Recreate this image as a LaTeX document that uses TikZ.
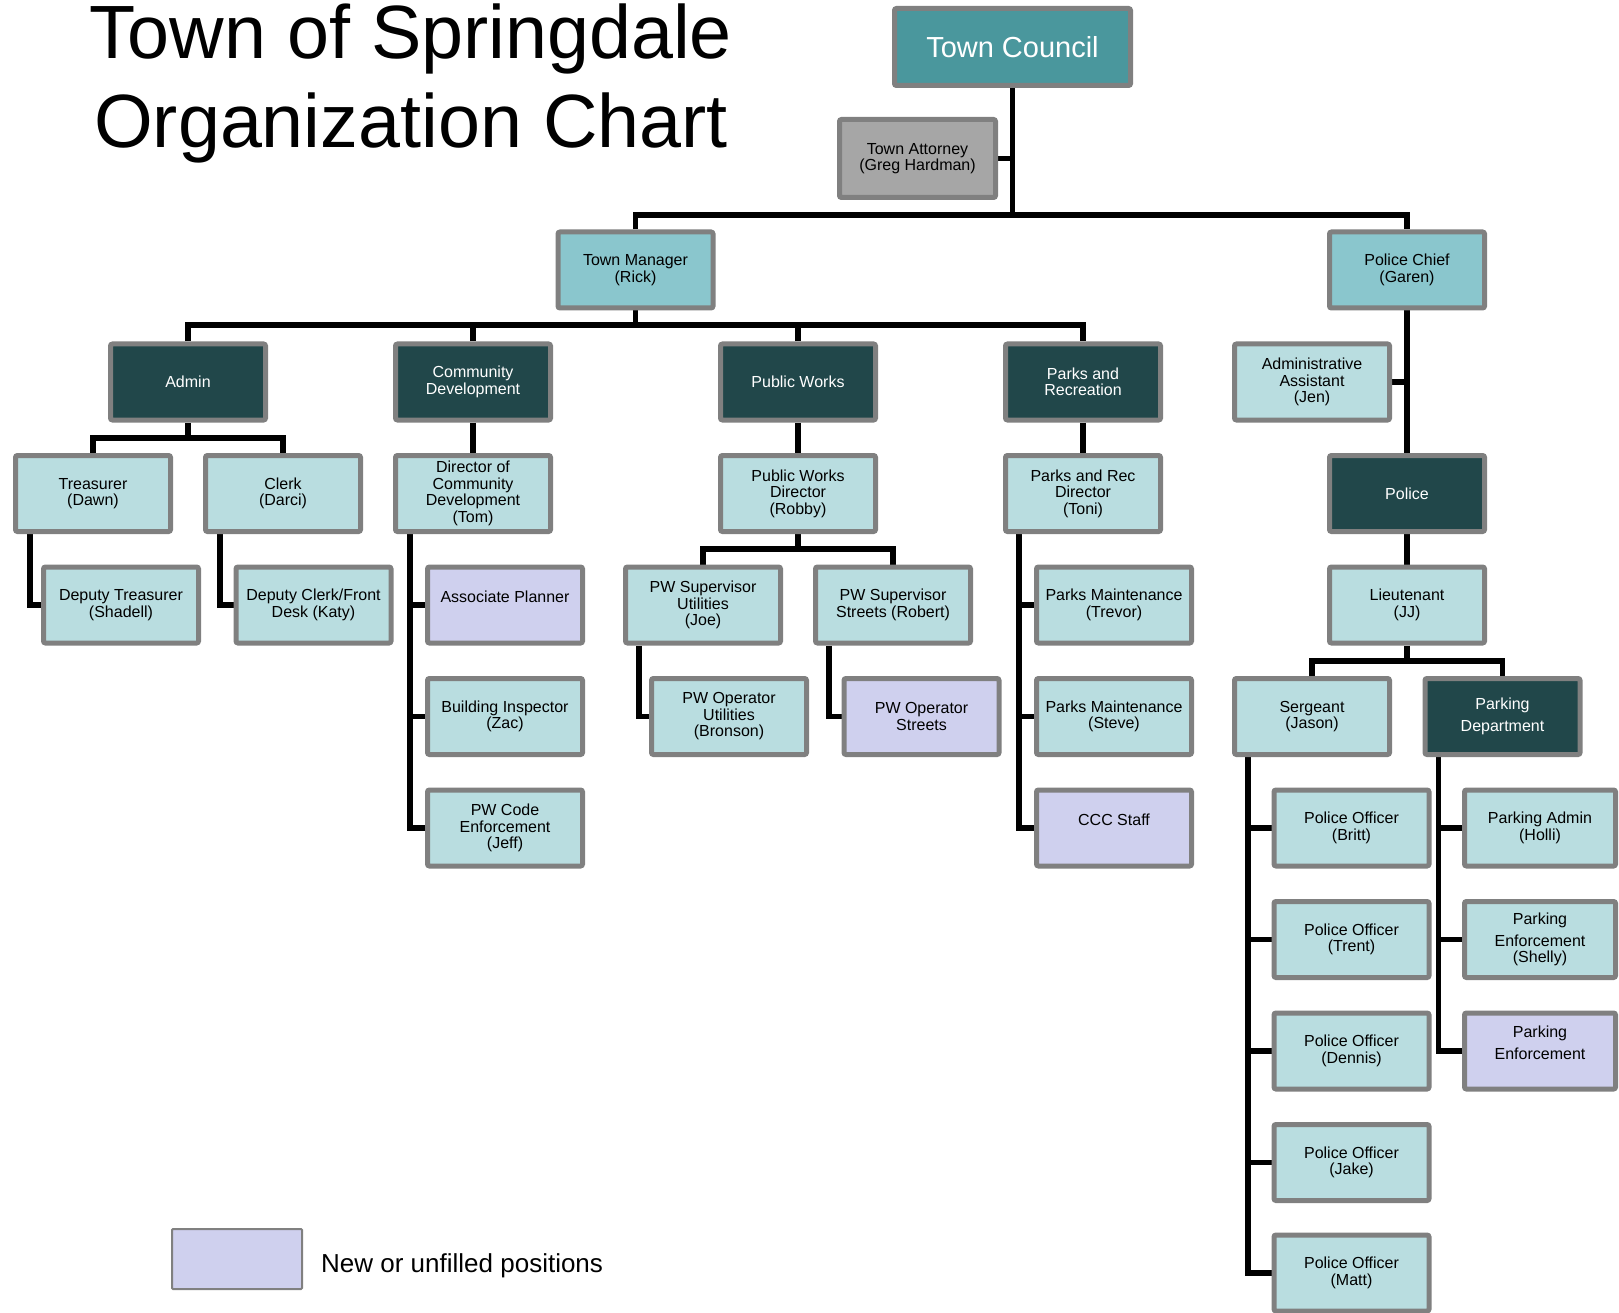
\documentclass[tikz,border=0pt]{standalone}
\usepackage{fontspec}
\setmainfont{Liberation Sans}
\usetikzlibrary{backgrounds}
\definecolor{bordergray}{HTML}{808080}
\definecolor{litebl}{HTML}{B9DDE0}
\definecolor{midbl}{HTML}{8AC6CD}
\definecolor{darkteal}{HTML}{21474A}
\definecolor{councilteal}{HTML}{4A979D}
\definecolor{attgray}{HTML}{A6A6A6}
\definecolor{lavender}{HTML}{CFD0EE}
\newcommand\bxfont{\fontsize{16}{16.5}\selectfont}
\tikzset{
  box/.style={draw=bordergray, line width=5pt, rounded corners=2pt, minimum width=155pt, minimum height=76pt, inner sep=2pt, align=center, font=\bxfont, text=black},
  lite/.style={box, fill=litebl},
  dark/.style={box, fill=darkteal, text=white},
  newpos/.style={box, fill=lavender},
  mgr/.style={box, fill=midbl},
  conn/.style={line width=5.5pt, black},
}
\begin{document}
\begin{tikzpicture}[x=1pt, y=-1pt]
\clip (0,0) rectangle (1619,1313);

% title
\node[font=\fontsize{75.5}{89}\selectfont, align=center, anchor=base] (title) at (411,148) {Town of Springdale\\Organization Chart};

% top
\node[box, fill=councilteal, text=white, minimum width=236pt, minimum height=77pt, font=\fontsize{29}{30}\selectfont] (tc) at (1012.5,47) {Town Council};
\node[box, fill=attgray, minimum width=156pt, minimum height=78pt] (att) at (917.5,158.5) {Town Attorney\\(Greg Hardman)};
\node[mgr] (tm) at (635.5,270) {Town Manager\\(Rick)};
\node[mgr] (pc) at (1407,270) {Police Chief\\(Garen)};

% departments
\node[dark] (admin) at (188,382) {Admin};
\node[dark] (cd) at (473,382) {Community\\Development};
\node[dark] (pw) at (798,382) {Public Works};
\node[dark] (pr) at (1083,382) {Parks and\\Recreation};
\node[lite] (aa) at (1312,382) {Administrative\\Assistant\\(Jen)};

% row C
\node[lite] (tre) at (93,493.5) {Treasurer\\(Dawn)};
\node[lite] (clk) at (283,493.5) {Clerk\\(Darci)};
\node[lite] (cdd) at (473,493.5) {Director of\\Community\\Development\\(Tom)};
\node[lite] (pwd) at (798,493.5) {Public Works\\Director\\(Robby)};
\node[lite] (prd) at (1083,493.5) {Parks and Rec\\Director\\(Toni)};
\node[dark] (pol) at (1407,493.5) {Police};

% row D
\node[lite] (dtre) at (121,605) {Deputy Treasurer\\(Shadell)};
\node[lite] (dclk) at (313.5,605) {Deputy Clerk/Front\\Desk (Katy)};
\node[newpos] (ap) at (505,605) {Associate Planner\\\phantom{X}};
\node[lite] (sup1) at (703,605) {PW Supervisor\\Utilities\\(Joe)};
\node[lite] (sup2) at (893,605) {PW Supervisor\\Streets (Robert)};
\node[lite] (pm1) at (1114,605) {Parks Maintenance\\(Trevor)};
\node[lite] (lt) at (1407,605) {Lieutenant\\(JJ)};

% row E
\node[lite] (bi) at (505,716.5) {Building Inspector\\(Zac)};
\node[lite] (op1) at (729,716.5) {PW Operator\\Utilities\\(Bronson)};
\node[newpos] (op2) at (921.5,716.5) {PW Operator\\Streets};
\node[lite] (pm2) at (1114,716.5) {Parks Maintenance\\(Steve)};
\node[lite] (sgt) at (1312,716.5) {Sergeant\\(Jason)};
\node[dark] (pkd) at (1502.5,716.5) {Parking\\[5pt]Department};

% row F and below
\node[lite] (code) at (505,828) {PW Code\\Enforcement\\(Jeff)};
\node[newpos] (ccc) at (1114,828) {CCC Staff\\\phantom{X}};
\node[lite] (po1) at (1351.5,828) {Police Officer\\(Britt)};
\node[lite] (po2) at (1351.5,939.5) {Police Officer\\(Trent)};
\node[lite] (po3) at (1351.5,1051) {Police Officer\\(Dennis)};
\node[lite] (po4) at (1351.5,1162.5) {Police Officer\\(Jake)};
\node[lite] (po5) at (1351.5,1273) {Police Officer\\(Matt)};
\node[lite, minimum width=151pt] (pa) at (1540,828) {Parking Admin\\(Holli)};
\node[lite, minimum width=151pt] (pe1) at (1540,939.5) {Parking\\[5pt]Enforcement\\(Shelly)};
\node[newpos, minimum width=151pt] (pe2) at (1540,1051) {Parking\\[5pt]Enforcement\\\phantom{X}};

% legend
\node[draw=bordergray, line width=2pt, rounded corners=1pt, fill=lavender, minimum width=130pt, minimum height=60pt] (leg) at (237,1259) {};
\node[font=\fontsize{26}{28}\selectfont, anchor=base west, inner sep=0pt] (legtext) at (321,1272) {New or unfilled positions};

% connectors
\begin{scope}[on background layer]
\fill[white] (0,0) rectangle (1619,1313);
\coordinate (bar1) at (0,215);
\coordinate (bar2) at (0,325);
\coordinate (bar3) at (0,438);
\coordinate (bar4) at (0,549);
\coordinate (bar5) at (0,661);
\draw[conn] (tc.south) -- (tc.south |- bar1);
\draw[conn] (att.east) -- (att.east -| tc.south);
\draw[conn] (tm.north) |- (pc.north |- bar1) -- (pc.north);

\draw[conn] (tm.south) -- (tm.south |- bar2);
\draw[conn] (admin.north) |- (pr.north |- bar2) -- (pr.north);
\draw[conn] (cd.north) -- (cd.north |- bar2);
\draw[conn] (pw.north) -- (pw.north |- bar2);

\draw[conn] (admin.south) -- (admin.south |- bar3);
\draw[conn] (tre.north) |- (clk.north |- bar3) -- (clk.north);
\coordinate (trx) at ([xshift=17pt]tre.south west);
\coordinate (clx) at ([xshift=17pt]clk.south west);
\draw[conn] (trx) |- (dtre.west);
\draw[conn] (clx) |- (dclk.west);

\draw[conn] (cd.south) -- (cdd.north);
\coordinate (cdx) at ([xshift=17pt]cdd.south west);
\draw[conn] (cdx) |- (code.west);
\draw[conn] (ap.west) -- (ap.west -| cdx);
\draw[conn] (bi.west) -- (bi.west -| cdx);

\draw[conn] (pw.south) -- (pwd.north);
\draw[conn] (pwd.south) -- (pwd.south |- bar4);
\draw[conn] (sup1.north) |- (sup2.north |- bar4) -- (sup2.north);
\coordinate (s1x) at ([xshift=16pt]sup1.south west);
\coordinate (s2x) at ([xshift=16pt]sup2.south west);
\draw[conn] (s1x) |- (op1.west);
\draw[conn] (s2x) |- (op2.west);

\draw[conn] (pr.south) -- (prd.north);
\coordinate (prx) at ([xshift=16pt]prd.south west);
\draw[conn] (prx) |- (ccc.west);
\draw[conn] (pm1.west) -- (pm1.west -| prx);
\draw[conn] (pm2.west) -- (pm2.west -| prx);

\draw[conn] (pc.south) -- (pol.north);
\draw[conn] (aa.east) -- (aa.east -| pc.south);
\draw[conn] (pol.south) -- (lt.north);
\draw[conn] (lt.south) -- (lt.south |- bar5);
\draw[conn] (sgt.north) |- (pkd.north |- bar5) -- (pkd.north);
\coordinate (sgx) at ([xshift=16pt]sgt.south west);
\draw[conn] (sgx) |- (po5.west);
\draw[conn] (po1.west) -- (po1.west -| sgx);
\draw[conn] (po2.west) -- (po2.west -| sgx);
\draw[conn] (po3.west) -- (po3.west -| sgx);
\draw[conn] (po4.west) -- (po4.west -| sgx);
\coordinate (pkx) at ([xshift=16pt]pkd.south west);
\draw[conn] (pkx) |- (pe2.west);
\draw[conn] (pa.west) -- (pa.west -| pkx);
\draw[conn] (pe1.west) -- (pe1.west -| pkx);
\end{scope}
\end{tikzpicture}
\end{document}
